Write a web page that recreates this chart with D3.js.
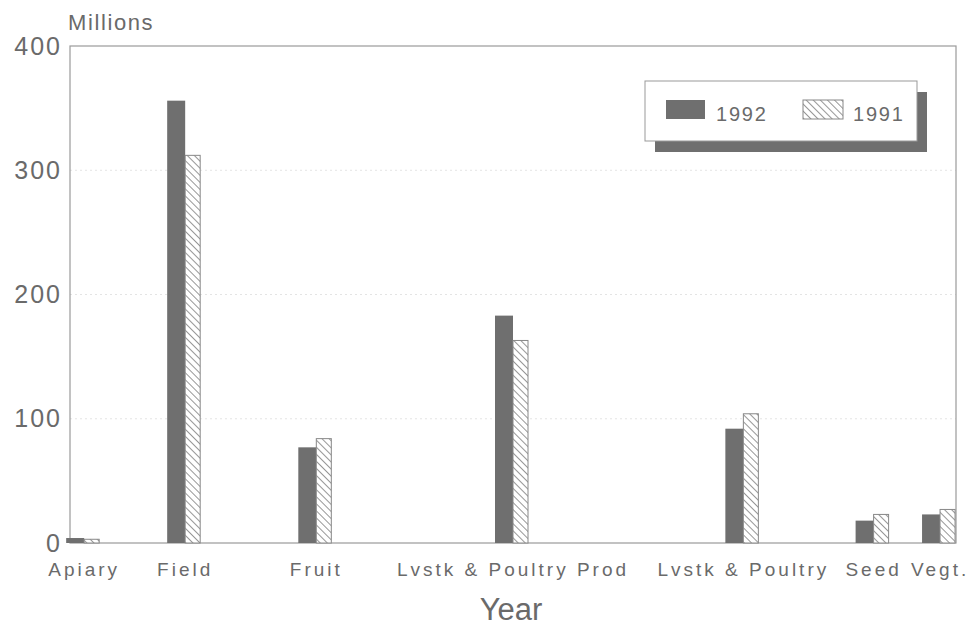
<!DOCTYPE html>
<html>
<head>
<meta charset="utf-8">
<script src="https://cdn.jsdelivr.net/npm/d3@7"></script>
<style>
  body { margin: 0; background: #fff; }
  text { font-family: "Liberation Sans", Arial, sans-serif; fill: #6a6a6a; }
</style>
</head>
<body>
<div id="chart"></div>
<script>
// values (millions)
const categories = ["Apiary", "Field", "Fruit", "Lvstk & Poultry Prod", "Lvstk & Poultry", "Seed", "Vegt."];
const values1992 = [4, 356, 77, 183, 92, 18, 23];
const values1991 = [3, 312, 84, 163, 104, 23, 27];
const yTicks = [0, 100, 200, 300, 400];
const seriesNames = ["1992", "1991"];

// group centres as a share of plot width (the original spaces them unevenly)
const groupSlots = [0.016, 0.13, 0.278, 0.5, 0.76, 0.907, 0.982];

var svg = d3.select("#chart").append("svg")
    .attr("width", 969)
    .attr("height", 626)

const margin = {left: 70, top: 46, right: 13, bottom: 83}
const width = 969 - margin.left - margin.right
const height = 626 - margin.top - margin.bottom

const defs = svg.append("defs")
const pat = defs.append("pattern")
    .attr("id", "hatch")
    .attr("patternUnits", "userSpaceOnUse")
    .attr("width", 5).attr("height", 5)
    .attr("patternTransform", "rotate(-45)")
pat.append("rect").attr("width", 5).attr("height", 5).attr("fill", "#fff")
pat.append("line")
    .attr("x1", 0).attr("y1", 0).attr("x2", 0).attr("y2", 5)
    .attr("stroke", "#6a6a6a").attr("stroke-width", 1.4)

const g = svg.append("g").attr("transform", `translate(${margin.left},${margin.top})`)

const y = d3.scaleLinear().domain([0, 400]).range([height, 0])
const x = d3.scaleOrdinal().domain(categories).range(groupSlots.map(s => s * width))
const w1992 = 18, w1991 = 15

// faint grid
g.selectAll(".grid").data(yTicks.filter(t => t > 0 && t < 400)).enter()
  .append("line")
    .attr("x1", 0).attr("x2", width)
    .attr("y1", d => y(d)).attr("y2", d => y(d))
    .attr("stroke", "#e4e4e4").attr("stroke-dasharray", "2,3")

// frame
g.append("rect")
    .attr("width", width).attr("height", height)
    .attr("fill", "none").attr("stroke", "#9a9a9a").attr("stroke-width", 1.2)

// y axis labels
const yAxis = d3.axisLeft(y).tickValues(yTicks).tickSize(0).tickPadding(8)
g.append("g").call(yAxis)
  .call(a => a.select(".domain").remove())
  .selectAll("text")
    .style("font-size", "25px").attr("letter-spacing", "2px").attr("fill", "#6a6a6a")

svg.append("text")
    .attr("x", 68).attr("y", 30)
    .style("font-size", "22px").attr("letter-spacing", "1.6px")
    .text("Millions")

// bars
g.selectAll(".b92").data(categories).enter().append("rect")
    .attr("x", d => x(d) - w1992)
    .attr("y", (d, i) => y(values1992[i]))
    .attr("width", w1992)
    .attr("height", (d, i) => y(0) - y(values1992[i]))
    .attr("fill", "#6f6f6f")

g.selectAll(".b91").data(categories).enter().append("rect")
    .attr("x", d => x(d))
    .attr("y", (d, i) => y(values1991[i]))
    .attr("width", w1991)
    .attr("height", (d, i) => y(0) - y(values1991[i]))
    .attr("fill", "url(#hatch)")
    .attr("stroke", "#888").attr("stroke-width", 1)

// category labels
g.selectAll(".cat").data(categories).enter().append("text")
    .attr("x", d => x(d))
    .attr("y", height + 33)
    .attr("text-anchor", "middle")
    .style("font-size", "19px").attr("letter-spacing", "3px")
    .text(d => d)

svg.append("text")
    .attr("x", 511).attr("y", 620)
    .attr("text-anchor", "middle")
    .style("font-size", "31px")
    .text("Year")

// legend with drop shadow
const lg = svg.append("g").attr("transform", "translate(645,81)")
lg.append("rect").attr("x", 10).attr("y", 11).attr("width", 272).attr("height", 60).attr("fill", "#6f6f6f")
lg.append("rect").attr("width", 272).attr("height", 60).attr("fill", "#fff").attr("stroke", "#999")
lg.append("rect").attr("x", 21).attr("y", 19).attr("width", 39).attr("height", 19).attr("fill", "#6f6f6f")
lg.append("rect").attr("x", 158).attr("y", 19).attr("width", 40).attr("height", 19)
    .attr("fill", "url(#hatch)").attr("stroke", "#888")
lg.selectAll(".lt").data(seriesNames).enter().append("text")
    .attr("x", (d, i) => i === 0 ? 71 : 208)
    .attr("y", 40)
    .style("font-size", "20px").attr("letter-spacing", "1.8px")
    .text(d => d)
</script>
</body>
</html>
